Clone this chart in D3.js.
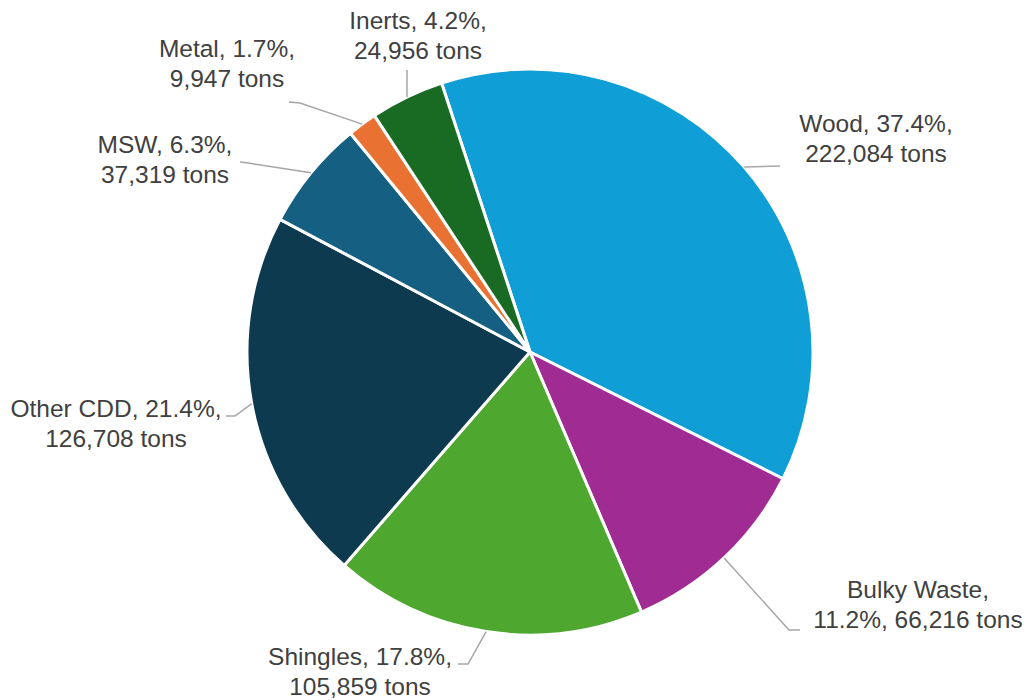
<!DOCTYPE html>
<html>
<head>
<meta charset="utf-8">
<script src="https://cdn.jsdelivr.net/npm/d3@7"></script>
<style>
  html, body { margin: 0; padding: 0; background: #ffffff; }
  svg { display: block; }
  text { font-family: "Liberation Sans", Arial, sans-serif; fill: #404040; }
</style>
</head>
<body>
<svg id="chart" width="1034" height="700"></svg>
<script>
// Material categories, clockwise from the top of the pie
const categories = ["Wood", "Bulky Waste", "Shingles", "Other CDD", "MSW", "Metal", "Inerts"];
const tons       = [222084, 66216, 105859, 126708, 37319, 9947, 24956];
const percents   = ["37.4%", "11.2%", "17.8%", "21.4%", "6.3%", "1.7%", "4.2%"];
const colors     = ["#0F9ED5", "#A02B93", "#4EA72E", "#0E3A4F", "#156082", "#E97132", "#196B24"];

// Two-line data labels
const labelLines = categories.map((c, i) => {
  const t = d3.format(",")(tons[i]) + " tons";
  if (c === "Bulky Waste") return [c + ",", percents[i] + ", " + t];
  return [c + ", " + percents[i] + ",", t];
});

// Label placement: text centre x, first baseline y, leader elbow points
const labelLayout = [
  { x: 876, y: 132, elbow: [[780, 166]] },
  { x: 918, y: 598, elbow: [[789, 630], [800, 630]] },
  { x: 360, y: 665, elbow: [[468, 664], [458, 664]] },
  { x: 116, y: 417, elbow: [[235, 416], [226, 416]] },
  { x: 165, y: 153, elbow: [[248, 163], [240, 162]] },
  { x: 227, y: 57,  elbow: [[300, 103], [289, 102]] },
  { x: 418, y: 29,  elbow: [[407, 70]] }
];

const cx = 530, cy = 352, radius = 283;
const startAngle = -18.2 * Math.PI / 180;

const svg = d3.select("#chart");
const g = svg.append("g").attr("transform", `translate(${cx},${cy})`);

const pie = d3.pie()
  .value(i => tons[i])
  .sort(null)
  .startAngle(startAngle)
  .endAngle(startAngle + 2 * Math.PI);

const arcs = pie(d3.range(categories.length));
const arc = d3.arc().innerRadius(0).outerRadius(radius);

g.selectAll("path.slice")
  .data(arcs)
  .join("path")
  .attr("class", "slice")
  .attr("d", arc)
  .attr("fill", d => colors[d.data])
  .attr("stroke", "#ffffff")
  .attr("stroke-width", 3)
  .attr("stroke-linejoin", "round");

// Leader lines from the slice edge at its mid-angle to the label
const line = d3.line();
svg.selectAll("path.leader")
  .data(arcs)
  .join("path")
  .attr("class", "leader")
  .attr("d", d => {
    const a = (d.startAngle + d.endAngle) / 2;
    const p0 = [cx + radius * Math.sin(a), cy - radius * Math.cos(a)];
    return line([p0, ...labelLayout[d.data].elbow]);
  })
  .attr("fill", "none")
  .attr("stroke", "#A6A6A6")
  .attr("stroke-width", 1.5);

const labels = svg.selectAll("text.label")
  .data(arcs)
  .join("text")
  .attr("class", "label")
  .attr("text-anchor", "middle")
  .attr("font-size", 24.5)
  .attr("x", d => labelLayout[d.data].x)
  .attr("y", d => labelLayout[d.data].y);

labels.selectAll("tspan")
  .data(d => labelLines[d.data].map(t => ({ t, x: labelLayout[d.data].x })))
  .join("tspan")
  .attr("x", d => d.x)
  .attr("dy", (d, i) => i === 0 ? 0 : 29.5)
  .text(d => d.t);
</script>
</body>
</html>
